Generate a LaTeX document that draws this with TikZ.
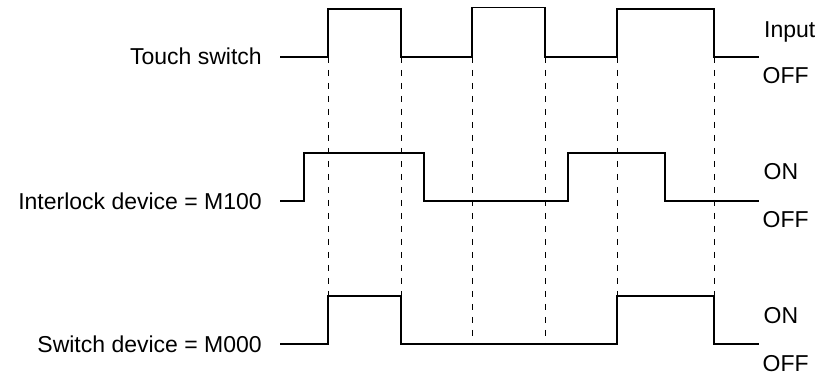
\documentclass[tikz,border=0pt]{standalone}
\usepackage{fontspec}
\setmainfont{Liberation Sans}
\tikzset{
  wave/.style={line width=1.8pt, line join=miter},
  guide/.style={line width=0.9pt, dash pattern=on 6pt off 7pt},
  lbl/.style={inner sep=0pt, font=\fontsize{23}{27}\selectfont},
}
\begin{document}
\begin{tikzpicture}[x=1pt,y=-1pt]
\useasboundingbox (0,0) rectangle (825,379);
% guide lines
\foreach \xx/\yy in {328/296, 401/296, 472/344, 545/344, 617/296, 714/296}{
  \draw[guide] (\xx,57) -- (\xx,\yy);
}
% left labels
\node[lbl, anchor=base east] (ts) at (262,65) {Touch switch};
\node[lbl, anchor=base east] (il) at (262,209.3) {Interlock device = M100};
\node[lbl, anchor=base east] (sw) at (262,352.7) {Switch device = M000};
% right labels
\node[lbl, anchor=base west] (in) at (764,37.3) {Input};
\node[lbl, anchor=base west] (off1) at (762.5,83.5) {OFF};
\node[lbl, anchor=base west] (on2) at (763.5,180) {ON};
\node[lbl, anchor=base west] (off2) at (762.5,227.5) {OFF};
\node[lbl, anchor=base west] (on3) at (763.5,323.3) {ON};
\node[lbl, anchor=base west] (off3) at (762.5,371.5) {OFF};
% waveform start/end coordinates
\coordinate (s1) at (280,57);
\coordinate (e1) at (759,57);
\coordinate (s2) at (280,201);
\coordinate (e2) at (759,201);
\coordinate (s3) at (280,344);
\coordinate (e3) at (759,344);
% touch switch
\draw[wave] (s1) -- (328,57) -- (328,9) -- (401,9) -- (401,57) -- (472,57) -- (472,7.5)
  -- (545,7.5) -- (545,57) -- (617,57) -- (617,9) -- (714,9) -- (714,57) -- (e1);
% interlock
\draw[wave] (s2) -- (304,201) -- (304,153) -- (424,153) -- (424,201) -- (568,201)
  -- (568,153) -- (665,153) -- (665,201) -- (e2);
% switch device
\draw[wave] (s3) -- (328,344) -- (328,296) -- (401,296) -- (401,344) -- (617,344)
  -- (617,296) -- (714,296) -- (714,344) -- (e3);
\end{tikzpicture}
\end{document}
